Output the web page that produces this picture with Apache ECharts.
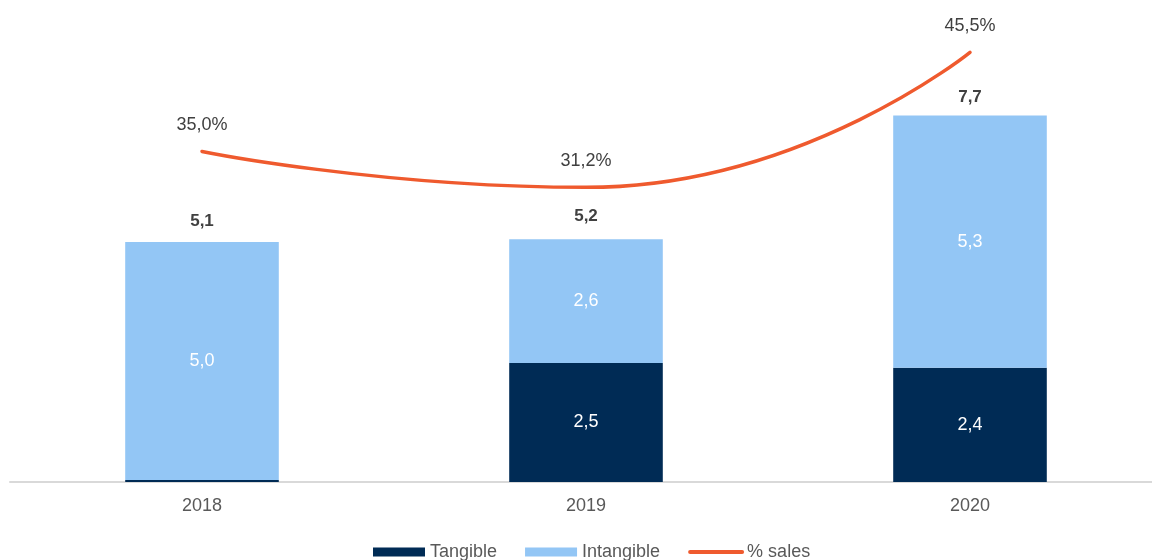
<!DOCTYPE html>
<html>
<head>
<meta charset="utf-8">
<script src="https://cdn.jsdelivr.net/npm/echarts@6/dist/echarts.min.js"></script>
<style>
  html, body { margin: 0; padding: 0; background: #ffffff; overflow: hidden; }
  #chart { width: 1162px; height: 560px; }
</style>
</head>
<body>
<div id="chart"></div>
<script>
// Capex split by year (EUR bn) and capex as share of sales
const years = ['2018', '2019', '2020'];
const tangible = [0.04, 2.5, 2.4];
const intangible = [5.0, 2.6, 5.3];
const totals = [5.1, 5.2, 7.7];
const salesPct = [35.0, 31.2, 45.5];

const fmt = v => v.toFixed(1).replace('.', ',');
const FONT = 'Liberation Sans, Arial, sans-serif';

const chart = echarts.init(document.getElementById('chart'), null, { renderer: 'canvas' });

chart.setOption({
  animation: false,
  textStyle: { fontFamily: FONT },
  // the plot runs slightly past the right edge of the visible area
  grid: { left: 10, right: 0, top: 6, bottom: 78, containLabel: false },
  legend: {
    left: 368,
    top: 538,
    itemWidth: 52,
    itemHeight: 9,
    itemGap: 28,
    textStyle: { fontSize: 18, color: '#595959', fontFamily: FONT },
    data: [
      { name: 'Tangible', icon: 'rect' },
      { name: 'Intangible', icon: 'rect' },
      { name: '% sales', itemStyle: { opacity: 0 }, lineStyle: { width: 4 } }
    ]
  },
  xAxis: {
    type: 'category',
    data: years,
    axisLine: { lineStyle: { color: '#d9d9d9', width: 2 } },
    axisTick: { show: false },
    axisLabel: { fontSize: 18, color: '#595959', margin: 15, fontFamily: FONT }
  },
  yAxis: [
    { type: 'value', min: 0, max: 10, show: false, splitLine: { show: false } },
    { type: 'value', min: 0, max: 50.4, show: false, splitLine: { show: false } }
  ],
  series: [
    {
      name: 'Tangible',
      type: 'bar',
      stack: 'capex',
      barWidth: '40%',
      data: tangible,
      itemStyle: { color: '#002b55' },
      label: {
        show: true,
        position: 'inside',
        color: '#ffffff',
        fontSize: 18,
        fontFamily: FONT,
        formatter: p => (p.value >= 0.5 ? fmt(p.value) : '')
      }
    },
    {
      name: 'Intangible',
      type: 'bar',
      stack: 'capex',
      barWidth: '40%',
      data: intangible,
      itemStyle: { color: '#93c6f5' },
      label: {
        show: true,
        position: 'inside',
        color: '#ffffff',
        fontSize: 18,
        fontFamily: FONT,
        formatter: p => fmt(p.value)
      }
    },
    {
      // bar totals, drawn as labels only
      name: 'Total',
      type: 'line',
      data: totals,
      symbol: 'circle',
      symbolSize: 1,
      itemStyle: { color: 'rgba(0,0,0,0)' },
      lineStyle: { opacity: 0 },
      silent: true,
      label: {
        show: true,
        position: 'top',
        distance: 9,
        color: '#404040',
        fontSize: 17,
        fontWeight: 'bold',
        fontFamily: FONT,
        formatter: p => fmt(p.value)
      }
    },
    {
      name: '% sales',
      type: 'line',
      yAxisIndex: 1,
      data: salesPct,
      smooth: 0.55,
      symbol: 'circle',
      symbolSize: 1,
      showSymbol: true,
      itemStyle: { color: '#ef5a2e' },
      lineStyle: { color: '#ef5a2e', width: 3.5, cap: 'round' },
      label: {
        show: true,
        position: 'top',
        distance: 17,
        color: '#404040',
        fontSize: 18,
        fontFamily: FONT,
        formatter: p => fmt(p.value) + '%'
      }
    }
  ]
});
</script>
</body>
</html>
